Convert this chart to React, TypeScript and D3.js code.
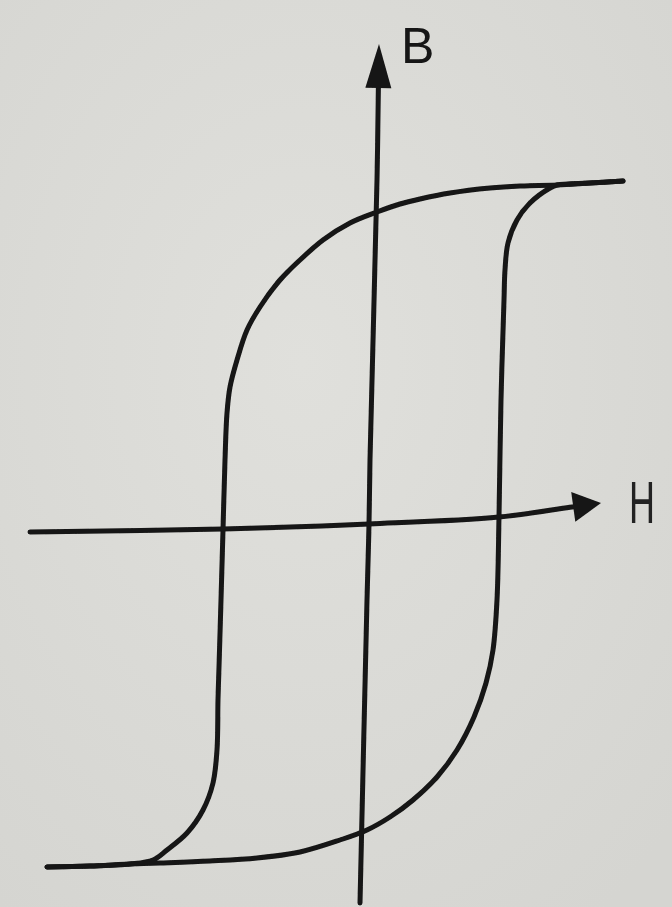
import React from "react";
import * as d3 from "d3";

// Hysteresis loop B(H): descending branch (from +saturation) and ascending branch (from -saturation)
const descendingH = [25.4, 22.1, 18.8, 15.1, 12.1, 8.1, 5.1, 3.1, 0.8, -1.9, -4.6, -6.9, -8.9, -10.9, -12.2, -13.2, -13.9, -14.2, -14.4, -14.6, -14.8, -15.0, -15.1, -15.2, -15.6, -16.6, -18.2, -20.2, -21.6, -23.9, -27.9, -32.2];
const descendingB = [34.3, 34.1, 33.9, 33.8, 33.6, 33.1, 32.5, 32.0, 31.2, 30.1, 28.4, 26.4, 24.4, 21.7, 19.4, 16.4, 13.7, 11.1, 6.4, -0.6, -7.6, -14.3, -17.6, -22.6, -25.9, -28.6, -30.9, -32.6, -33.6, -34.0, -34.2, -34.3];

const ascendingH = [-32.2, -27.9, -23.9, -20.9, -15.9, -11.2, -6.9, -2.9, -0.2, 2.1, 4.4, 6.8, 8.8, 10.5, 11.7, 12.4, 12.8, 13.0, 13.2, 13.5, 13.6, 13.9, 14.8, 16.1, 18.1, 18.8, 22.1, 25.4];
const ascendingB = [-34.3, -34.2, -34.0, -33.9, -33.7, -33.4, -32.8, -31.6, -30.6, -29.3, -27.6, -25.3, -22.6, -19.3, -15.9, -12.6, -7.6, 0.7, 12.4, 22.4, 25.4, 28.1, 30.4, 32.1, 33.6, 33.9, 34.1, 34.3];

// Axis polylines: H axis left to right, B axis bottom to top (last point is the arrow tip)
const hAxisH = [-33.9, -14.6, 0, 13.0, 20.3, 23.2];
const hAxisB = [-0.8, -0.5, 0, 0.7, 1.7, 2.1];
const bAxisH = [-0.9, -0.2, 0, 0.1, 0.8, 1.0];
const bAxisB = [-37.9, -7.6, 0, 6.4, 34.4, 48.0];

const axisLabels = ["B", "H"];

const WIDTH = 672;
const HEIGHT = 907;

export default function App() {
  const x = d3.scaleLinear().domain([-30, 30]).range([69, 669]);
  const y = d3.scaleLinear().domain([-36, 36]).range([884, 164]);

  const toPts = (hs: number[], bs: number[]) =>
    hs.map((h, i) => [x(h), y(bs[i])] as [number, number]);

  const curve = d3
    .line<[number, number]>()
    .x((d) => d[0])
    .y((d) => d[1])
    .curve(d3.curveCatmullRom.alpha(0.5));

  const desc = toPts(descendingH, descendingB);
  const asc = toPts(ascendingH, ascendingB);
  const hAxis = toPts(hAxisH, hAxisB);
  const bAxis = toPts(bAxisH, bAxisB);

  // Arrowhead triangle at the last point of a polyline
  const arrow = (pts: [number, number][], len: number, half: number) => {
    const [tx, ty] = pts[pts.length - 1];
    const [px, py] = pts[pts.length - 2];
    const dx = tx - px;
    const dy = ty - py;
    const n = Math.hypot(dx, dy);
    const ux = dx / n;
    const uy = dy / n;
    const bx = tx - ux * len;
    const by = ty - uy * len;
    return `${tx},${ty} ${bx - uy * half},${by + ux * half} ${bx + uy * half},${by - ux * half}`;
  };

  // Pull the shaft end back so it finishes inside the arrowhead
  const shaft = (pts: [number, number][], len: number) => {
    const out = pts.slice();
    const [tx, ty] = out[out.length - 1];
    const [px, py] = out[out.length - 2];
    const n = Math.hypot(tx - px, ty - py);
    out[out.length - 1] = [tx - ((tx - px) / n) * len, ty - ((ty - py) / n) * len];
    return out;
  };

  const ink = "#141414";

  return (
    <svg
      width={WIDTH}
      height={HEIGHT}
      style={{ position: "absolute", left: 0, top: 0, display: "block" }}
    >
      <defs>
        <radialGradient id="paper" cx="45%" cy="40%" r="75%">
          <stop offset="0%" stopColor="#e0e0dc" />
          <stop offset="100%" stopColor="#d5d5d1" />
        </radialGradient>
        <filter id="soft" x="-5%" y="-5%" width="110%" height="110%">
          <feGaussianBlur stdDeviation="0.6" />
        </filter>
      </defs>
      <rect x={0} y={0} width={WIDTH} height={HEIGHT} fill="url(#paper)" />

      <g filter="url(#soft)">
        <path d={curve(shaft(hAxis, 20)) || ""} fill="none" stroke={ink} strokeWidth={5} strokeLinecap="round" />
        <polygon points={arrow(hAxis, 28, 15)} fill={ink} />
        <path d={curve(shaft(bAxis, 30)) || ""} fill="none" stroke={ink} strokeWidth={5} strokeLinecap="round" />
        <polygon points={arrow(bAxis, 44, 13)} fill={ink} />

        <path d={curve(desc) || ""} fill="none" stroke={ink} strokeWidth={5} strokeLinecap="round" strokeLinejoin="round" />
        <path d={curve(asc) || ""} fill="none" stroke={ink} strokeWidth={5} strokeLinecap="round" strokeLinejoin="round" />

        <text
          x={x(3.2)}
          y={y(46.1)}
          fontFamily="Liberation Sans, Arial, sans-serif"
          fontSize={50}
          fill={ink}
        >
          {axisLabels[0]}
        </text>
        <text
          transform={`translate(${x(26.0)},${y(0.1)}) scale(0.6,1)`}
          fontFamily="Liberation Sans, Arial, sans-serif"
          fontSize={60}
          fill="#222"
        >
          {axisLabels[1]}
        </text>
      </g>
    </svg>
  );
}
